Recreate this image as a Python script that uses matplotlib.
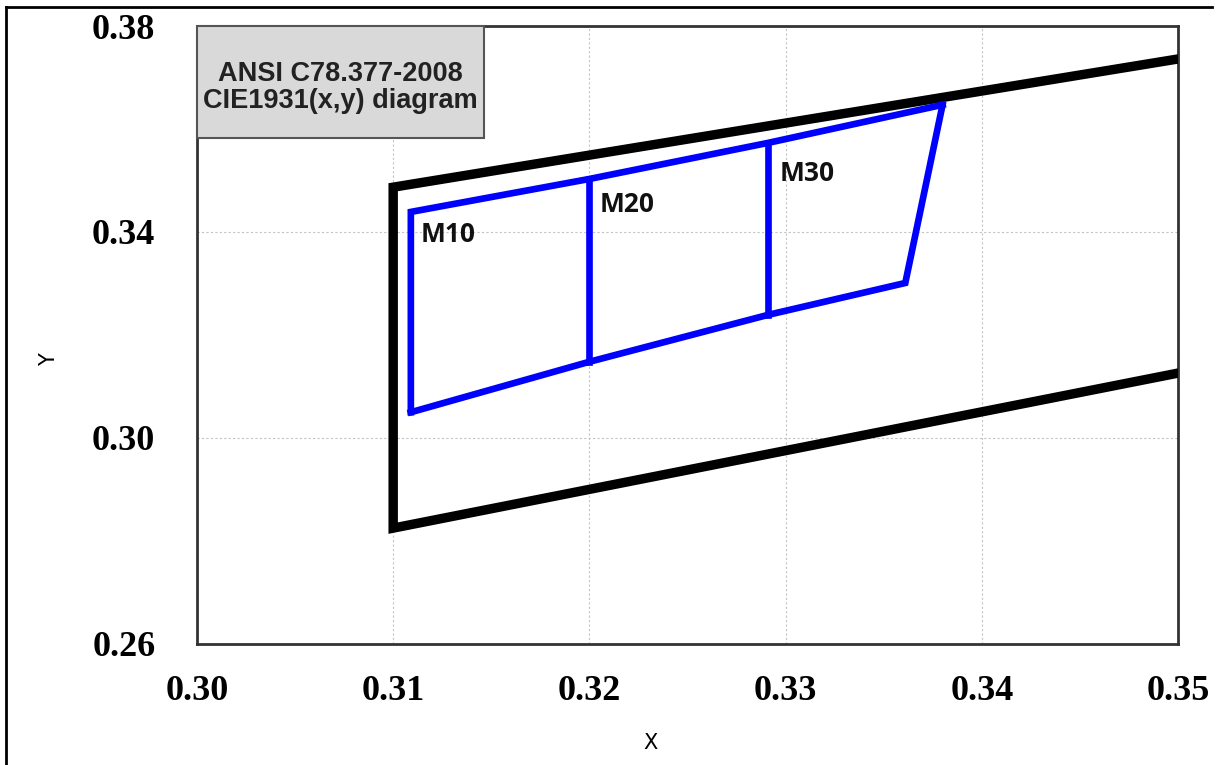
import matplotlib
matplotlib.use("Agg")
import matplotlib.pyplot as plt
from matplotlib.patches import Rectangle
from matplotlib.lines import Line2D

# ANSI outer quadrangle (black)
ansi_x = [0.35, 0.31, 0.31, 0.35]
ansi_y = [0.3736, 0.3487, 0.2825, 0.3126]

# blue sub-quadrangles: top edge, bottom edge, right edge
top_x = [0.3109, 0.3109, 0.3200, 0.3291, 0.3380]
top_y = [0.3050, 0.3439, 0.3503, 0.3573, 0.3647]
bot_x = [0.3109, 0.3200, 0.3291, 0.3361, 0.3380]
bot_y = [0.3050, 0.3148, 0.3239, 0.3301, 0.3647]
# dividers
div_x = [0.3200, 0.3291]
div_top = [0.3503, 0.3573]
div_bot = [0.3148, 0.3239]

labels = ["M10", "M20", "M30"]
label_x = [0.3114, 0.3205, 0.3297]
label_y = [0.3396, 0.3454, 0.3514]

xticks = [0.30, 0.31, 0.32, 0.33, 0.34, 0.35]
yticks = [0.26, 0.30, 0.34, 0.38]

fig = plt.figure(figsize=(12.28, 7.65), dpi=100)
ax = fig.add_axes([0.1604, 0.1582, 0.7989, 0.8078])

ax.set_xlim(0.30, 0.35)
ax.set_ylim(0.26, 0.38)
ax.set_xticks(xticks)
ax.set_yticks(yticks)
ax.set_xticklabels(["%.2f" % v for v in xticks], fontfamily="Liberation Serif",
                   fontweight="bold", fontsize=26)
ax.set_yticklabels(["%.2f" % v for v in yticks], fontfamily="Liberation Serif",
                   fontweight="bold", fontsize=26)
ax.tick_params(axis="x", length=0, pad=22)
ax.tick_params(axis="y", length=0, pad=30)
ax.grid(True, linestyle=(0, (2, 2)), color="#c4c4c4", linewidth=0.8)
ax.set_axisbelow(True)
for s in ax.spines.values():
    s.set_linewidth(2)
    s.set_color("#333333")

# outer black quadrangle
ax.plot(ansi_x, ansi_y, color="black", linewidth=6.8, solid_joinstyle="miter", zorder=3)

# blue quadrangles
ax.plot(top_x, top_y, color="#0000ff", linewidth=4.8, solid_joinstyle="miter", zorder=4)
ax.plot(bot_x, bot_y, color="#0000ff", linewidth=4.8, solid_joinstyle="miter", zorder=4)
for i in range(len(div_x)):
    ax.plot([div_x[i], div_x[i]], [div_bot[i], div_top[i]], color="#0000ff",
            linewidth=4.8, zorder=4)

for i in range(len(labels)):
    ax.text(label_x[i], label_y[i], labels[i], fontfamily="Open Sans", fontweight="bold",
            fontsize=19, color="#111111", va="center", ha="left", zorder=5)

# title box
ax.add_patch(Rectangle((0, 0.8188), 0.2926, 0.1812, transform=ax.transAxes,
                       facecolor="#d9d9d9", edgecolor="#555555", linewidth=1.5,
                       zorder=6, clip_on=False))
ax.text(0.146, 0.900, "ANSI C78.377-2008\nCIE1931(x,y) diagram", transform=ax.transAxes,
        ha="center", va="center", fontfamily="Liberation Sans", fontweight="bold",
        fontsize=19.5, color="#222222", linespacing=1.06, zorder=7)

ax.set_xlabel("X", fontsize=15, fontfamily="DejaVu Sans")
ax.set_ylabel("Y", fontsize=15, fontfamily="DejaVu Sans")
ax.xaxis.set_label_coords(0.4618, -0.144)
ax.yaxis.set_label_coords(-0.1406, 0.4595)

# figure border lines (top and left)
fig.add_artist(Line2D([0.0049, 0.987], [0.9908, 0.9908], color="black", linewidth=2,
                      transform=fig.transFigure))
fig.add_artist(Line2D([0.0049, 0.0049], [0.0, 0.9908], color="black", linewidth=2,
                      transform=fig.transFigure))

fig.savefig("out.png", dpi=100)
